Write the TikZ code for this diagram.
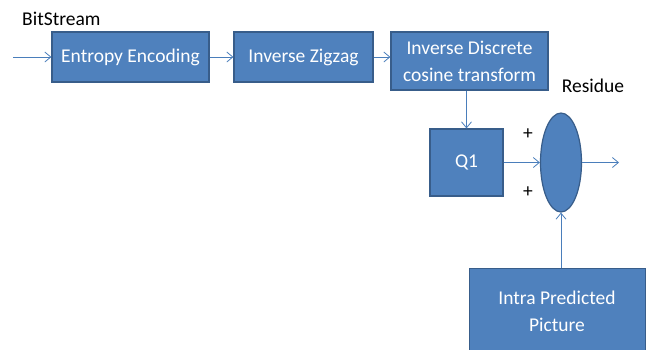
\documentclass[tikz,border=0pt]{standalone}
\usepackage{fontspec}
\setmainfont{Carlito}
\usetikzlibrary{arrows.meta,shapes.geometric}
\definecolor{boxfill}{HTML}{4F81BD}
\definecolor{boxline}{HTML}{385D8A}
\definecolor{arrowc}{HTML}{4A7EBB}
\tikzset{
  blk/.style={draw=boxline, line width=1.2pt, fill=boxfill, text=white, font=\fontsize{19.5}{27}\selectfont, align=center, inner sep=0pt},
  conn/.style={draw=arrowc, line width=0.8pt, -{Straight Barb[length=6pt,width=10pt]}},
  lbl/.style={font=\fontsize{19.5}{27}\selectfont, text=black, inner sep=0pt}
}
\begin{document}
\begin{tikzpicture}[x=1pt,y=-1pt]
\useasboundingbox (0,0) rectangle (649,349);
\clip (0,0) rectangle (649,349);
\node[blk, minimum width=157pt, minimum height=50pt] (ent) at (130.5,57) {Entropy Encoding};
\node[blk, minimum width=139pt, minimum height=50pt] (zig) at (303.5,57) {Inverse Zigzag};
\node[blk, minimum width=157pt, minimum height=58pt] (idct) at (469.5,61) {Inverse Discrete\\cosine transform};
\node[blk, minimum width=73pt, minimum height=67pt] (q1) at (466.5,162.5) {Q1};
\node[draw=boxline, line width=1.2pt, fill=boxfill, ellipse, minimum width=41pt, minimum height=99pt, inner sep=0pt] (sum) at (561,162.5) {};
\node[blk, minimum width=176pt, minimum height=110pt, anchor=north west] (intra) at (469,268) {};
\node[lbl, text=white, align=center] (intratxt) at (557,311) {Intra Predicted\\Picture};
\coordinate (in) at (13,57);
\coordinate (out) at (619,162.5);
\node[lbl, anchor=west] (bs) at (22,19) {BitStream};
\node[lbl] (res) at (593,86) {Residue};
\node[lbl] (p1) at (528,134) {+};
\node[lbl] (p2) at (528,192) {+};
\draw[conn] (in) -- (ent.west);
\draw[conn] (ent) -- (zig);
\draw[conn] (zig) -- (idct.west |- zig);
\draw[conn] (idct.south -| q1.north) -- (q1.north);
\draw[conn] (q1) -- (sum);
\draw[conn] (sum) -- (out);
\draw[conn] (intra.north -| sum.south) -- (sum.south);
\end{tikzpicture}
\end{document}
